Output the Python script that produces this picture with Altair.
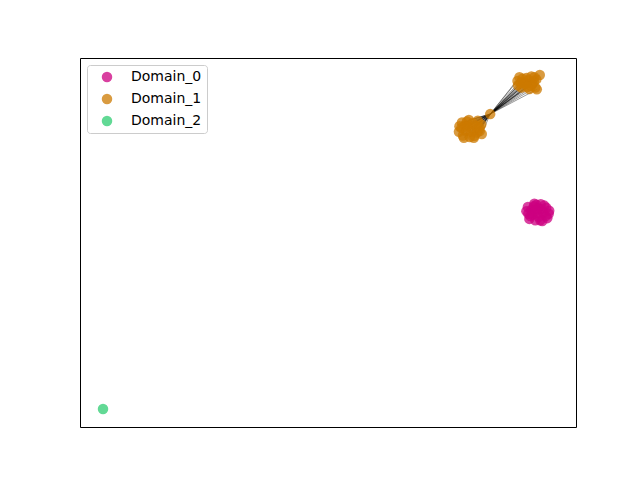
import altair as alt
import pandas as pd

domains = ["Domain_0", "Domain_1", "Domain_2"]
colors = ["#cc0080", "#cc7a00", "#2ecc71"]

# Domain_0 cluster nodes
d0_x = [90.0, 90.6, 91.5, 92.8, 93.9, 94.6, 93.6, 92.3, 91.2, 93.0, 90.3, 94.2, 92.0, 91.8,
        91.0, 92.5, 93.4, 94.0, 90.8, 92.9, 91.6, 93.2, 92.2, 90.4, 94.5, 91.9]
d0_y = [58.5, 56.4, 59.8, 56.0, 57.2, 58.6, 60.0, 58.0, 57.5, 59.0, 59.6, 56.6, 60.2, 56.0,
        58.8, 57.0, 58.2, 59.4, 57.2, 60.4, 60.5, 55.8, 59.2, 57.8, 57.8, 58.6]

# Domain_1 lower cluster (A)
a_x = [76.5, 77.2, 78.0, 79.5, 80.6, 80.9, 79.0, 77.0, 78.6, 76.4, 80.2, 79.8, 77.8, 81.0, 78.4,
       77.6, 79.2, 80.0, 78.8, 76.9, 80.5, 79.4, 78.1, 77.4]
a_y = [81.5, 79.0, 82.8, 78.9, 80.2, 82.0, 81.0, 82.5, 78.6, 80.0, 83.0, 81.6, 80.3, 79.4, 83.2,
       81.8, 82.4, 79.8, 80.0, 81.0, 81.2, 78.4, 81.4, 78.4]

# Domain_1 upper cluster (B)
b_x = [88.2, 89.0, 90.0, 91.2, 92.0, 91.8, 89.4, 90.6, 88.6, 91.0, 92.1, 88.3,
       89.8, 90.4, 91.5, 89.2, 90.9, 88.9, 91.6, 90.2]
b_y = [93.8, 92.0, 94.6, 93.0, 94.2, 92.0, 93.4, 91.6, 94.8, 95.0, 91.5, 92.6,
       93.0, 94.0, 93.6, 94.4, 92.4, 93.2, 94.8, 92.2]

# Domain_1 hub and outlier
hub_x, hub_y = 82.7, 84.8
out_x, out_y = 92.7, 95.4

# Domain_2 single node
d2_x = [4.64]
d2_y = [4.88]

rows = []
for x, y in zip(d0_x, d0_y):
    rows.append(("Domain_0", x, y))
for x, y in zip(a_x, a_y):
    rows.append(("Domain_1", x, y))
for x, y in zip(b_x, b_y):
    rows.append(("Domain_1", x, y))
rows.append(("Domain_1", hub_x, hub_y))
rows.append(("Domain_1", out_x, out_y))
for x, y in zip(d2_x, d2_y):
    rows.append(("Domain_2", x, y))
nodes = pd.DataFrame(rows, columns=["domain", "x", "y"])

edges = []
for x, y in zip(a_x, a_y):
    edges.append((x, y, hub_x, hub_y))
for x, y in zip(b_x, b_y):
    edges.append((hub_x, hub_y, x, y))
edges.append((hub_x, hub_y, out_x, out_y))
edges_df = pd.DataFrame(edges, columns=["x", "y", "x2", "y2"])

xs = alt.Scale(domain=[0, 100], nice=False, zero=False)
ys = alt.Scale(domain=[0, 100], nice=False, zero=False)

edge_layer = alt.Chart(edges_df).mark_rule(color="black", opacity=0.5, strokeWidth=0.8).encode(
    x=alt.X("x:Q", scale=xs, axis=None),
    y=alt.Y("y:Q", scale=ys, axis=None),
    x2="x2:Q",
    y2="y2:Q",
)

node_layer = alt.Chart(nodes).mark_circle(size=110, opacity=0.75).encode(
    x=alt.X("x:Q", scale=xs, axis=None),
    y=alt.Y("y:Q", scale=ys, axis=None),
    color=alt.Color(
        "domain:N",
        scale=alt.Scale(domain=domains, range=colors),
        legend=alt.Legend(
            title=None,
            orient="none",
            legendX=7,
            legendY=7,
            fillColor="white",
            strokeColor="#cccccc",
            cornerRadius=3,
            padding=5,
            symbolOffset=8,
            labelOffset=17,
            rowPadding=8,
            labelFont="DejaVu Sans",
            labelFontSize=14,
            labelColor="#000000",
            symbolOpacity=0.75,
            symbolSize=110,
        ),
    ),
)

chart = alt.layer(edge_layer, node_layer).properties(
    width=496,
    height=369,
    autosize="none",
    padding={"left": 72, "top": 50, "right": 56, "bottom": 45},
).configure_view(stroke="black", strokeWidth=1)

chart.save("out.html", embed_options={"renderer": "svg", "actions": False})
